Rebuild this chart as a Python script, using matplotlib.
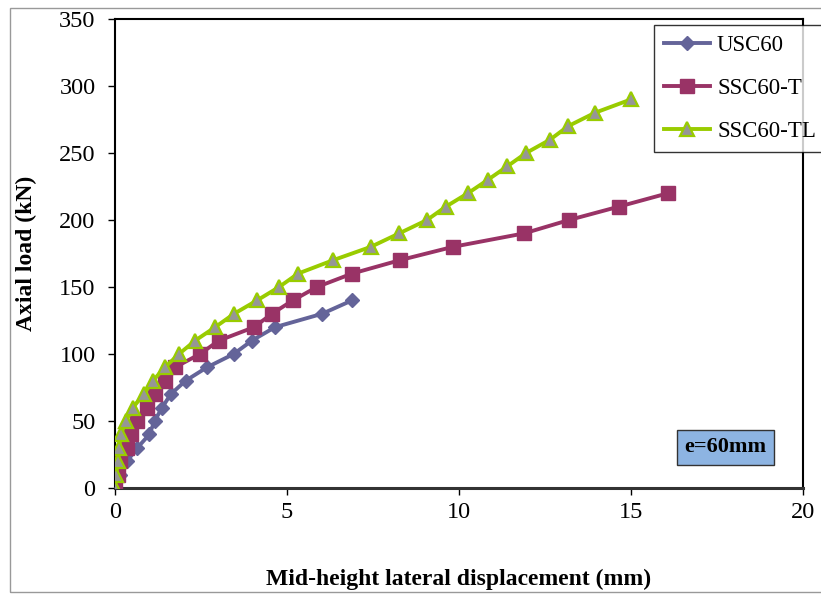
import matplotlib
matplotlib.use("Agg")
import matplotlib.pyplot as plt
from matplotlib.patches import Rectangle

# Data
load_usc = [0, 10, 20, 30, 40, 50, 60, 70, 80, 90, 100, 110, 120, 130, 140]
disp_usc = [0, 0.15, 0.35, 0.65, 1.0, 1.15, 1.37, 1.62, 2.05, 2.67, 3.45, 3.98, 4.65, 6.02, 6.89]

load_t = [0, 10, 20, 30, 40, 50, 60, 70, 80, 90, 100, 110, 120, 130, 140, 150, 160, 170, 180, 190, 200, 210, 220]
disp_t = [0, 0.09, 0.15, 0.35, 0.47, 0.64, 0.93, 1.16, 1.45, 1.74, 2.47, 3.02, 4.04, 4.56, 5.17, 5.87, 6.89, 8.28, 9.83, 11.89, 13.2, 14.65, 16.08]

load_tl = [0, 10, 20, 30, 40, 50, 60, 70, 80, 90, 100, 110, 120, 130, 140, 150, 160, 170, 180, 190, 200, 210, 220, 230, 240, 250, 260, 270, 280, 290]
disp_tl = [0, 0.03, 0.09, 0.12, 0.17, 0.32, 0.52, 0.84, 1.10, 1.45, 1.86, 2.33, 2.91, 3.46, 4.13, 4.77, 5.32, 6.34, 7.44, 8.26, 9.07, 9.62, 10.26, 10.84, 11.4, 11.95, 12.65, 13.17, 13.95, 15.0]

xticks = [0, 5, 10, 15, 20]
yticks = [0, 50, 100, 150, 200, 250, 300, 350]

plt.rcParams['font.family'] = ['Liberation Serif', 'DejaVu Serif']

fig = plt.figure(figsize=(8.21, 5.94), dpi=100)
fig.patches.append(Rectangle((10/821, 2/594), 1.0, 1 - 10/594, transform=fig.transFigure,
                             fill=False, edgecolor='#999999', linewidth=1.0, zorder=0))
ax = fig.add_axes([115/821, 1 - 488/594, (803 - 115)/821, (488 - 19)/594])

ax.plot(disp_usc, load_usc, color='#646499', lw=2.8, marker='D', ms=7.5,
        mfc='#646499', mec='#646499', label='USC60', zorder=3)
ax.plot(disp_t, load_t, color='#993366', lw=2.8, marker='s', ms=10,
        mfc='#993366', mec='#993366', label='SSC60-T', zorder=4)
ax.plot(disp_tl, load_tl, color='#99CC00', lw=2.8, marker='^', ms=10.5,
        mfc='#969696', mec='#99CC00', mew=1.6, label='SSC60-TL', zorder=5)

ax.set_xlim(0, 20)
ax.set_ylim(0, 350)
ax.set_xticks(xticks)
ax.set_yticks(yticks)
ax.tick_params(axis='both', direction='out', length=5, width=1, labelsize=17.5, colors='#000000')
ax.tick_params(axis='y', pad=9)
ax.tick_params(axis='x', pad=5)
for s in ax.spines.values():
    s.set_linewidth(1.5)
    s.set_color('black')
ax.spines['bottom'].set_linewidth(2.2)
ax.spines['bottom'].set_color('#333333')

ax.set_xlabel('Mid-height lateral displacement (mm)', fontsize=17, fontweight='bold', labelpad=33)
ax.set_ylabel('Axial load (kN)', fontsize=17, fontweight='bold', labelpad=16)

leg = fig.legend(loc='upper left', bbox_to_anchor=(654/821, 1 - 25/594), fontsize=16.5,
                 frameon=True, fancybox=False, edgecolor='black', handlelength=2.0,
                 labelspacing=0.95, borderpad=0.45, handletextpad=0.3, borderaxespad=0)
leg.get_frame().set_linewidth(1.0)

ax.text(725.5/821, 1 - 447.5/594, 'e=60mm', transform=fig.transFigure, fontsize=16,
        fontweight='bold', ha='center', va='center',
        bbox=dict(boxstyle='square,pad=0.32', facecolor='#8DB4E2', edgecolor='#333333', linewidth=1))

fig.savefig('out.png', dpi=100)
